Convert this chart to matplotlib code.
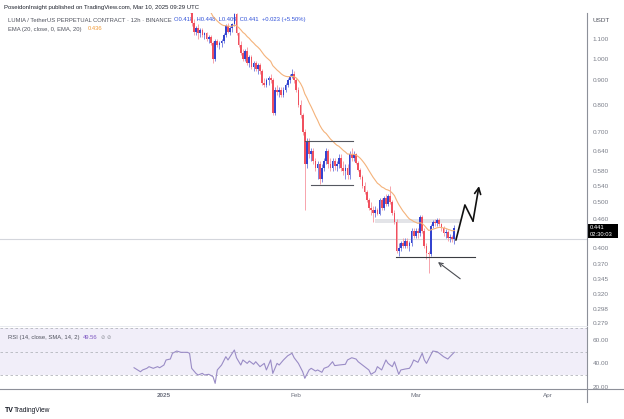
import numpy as np
import pandas as pd
import matplotlib
matplotlib.use("Agg")
import matplotlib.pyplot as plt
from matplotlib.lines import Line2D
from matplotlib.patches import Rectangle
from matplotlib.ticker import FixedLocator, NullLocator, FuncFormatter

plt.rcParams['font.family'] = ['Liberation Sans', 'DejaVu Sans']

# ---- 12h candles, LUMIA/USDT perpetual ----
first_candle = "2025-01-07 00:00"
opens = [1.30, 1.26, 1.19, 1.14, 1.16, 1.13, 1.15, 1.12, 1.13, 1.10, 1.11, 1.08, 1.00, 1.09, 1.07, 1.08,
         1.09, 1.12, 1.17, 1.14, 1.16, 1.18, 1.24, 1.13, 1.07, 1.03, 1.00, 1.04, 0.98, 1.01, 0.96, 0.98,
         0.95, 0.97, 0.94, 0.89, 0.88, 0.90, 0.91, 0.90, 0.77, 0.86, 0.85, 0.86, 0.84, 0.86, 0.88, 0.90,
         0.92, 0.93, 0.90, 0.86, 0.80, 0.76, 0.70, 0.60, 0.67, 0.63, 0.64, 0.61, 0.59, 0.60, 0.56, 0.59,
         0.61, 0.64, 0.60, 0.59, 0.61, 0.595, 0.60, 0.62, 0.59, 0.58, 0.59, 0.57, 0.63, 0.62, 0.63, 0.605,
         0.585, 0.565, 0.54, 0.525, 0.505, 0.485, 0.48, 0.475, 0.48, 0.472, 0.505, 0.485, 0.51, 0.495, 0.515, 0.50,
         0.475, 0.455, 0.395, 0.40, 0.41, 0.405, 0.415, 0.405, 0.41, 0.435, 0.425, 0.435, 0.43, 0.465, 0.435, 0.405,
         0.39, 0.388, 0.445, 0.455, 0.452, 0.458, 0.45, 0.44, 0.43, 0.433, 0.42, 0.423, 0.418]
highs = [1.34, 1.27, 1.21, 1.17, 1.18, 1.16, 1.16, 1.14, 1.14, 1.12, 1.12, 1.09, 1.10, 1.10, 1.09, 1.10,
         1.13, 1.18, 1.19, 1.17, 1.19, 1.25, 1.25, 1.14, 1.09, 1.05, 1.05, 1.06, 1.02, 1.02, 0.99, 0.99,
         0.98, 0.98, 0.95, 0.91, 0.91, 0.92, 0.93, 0.91, 0.87, 0.88, 0.87, 0.87, 0.87, 0.89, 0.91, 0.93,
         0.95, 0.94, 0.91, 0.87, 0.82, 0.77, 0.71, 0.68, 0.68, 0.65, 0.65, 0.62, 0.61, 0.61, 0.60, 0.62,
         0.65, 0.645, 0.62, 0.62, 0.62, 0.61, 0.63, 0.63, 0.61, 0.60, 0.60, 0.64, 0.65, 0.64, 0.635, 0.61,
         0.59, 0.57, 0.55, 0.53, 0.51, 0.50, 0.49, 0.49, 0.485, 0.51, 0.51, 0.515, 0.52, 0.52, 0.54, 0.505,
         0.48, 0.46, 0.41, 0.415, 0.42, 0.42, 0.42, 0.415, 0.44, 0.44, 0.44, 0.44, 0.47, 0.47, 0.44, 0.41,
         0.395, 0.45, 0.458, 0.46, 0.462, 0.462, 0.452, 0.445, 0.438, 0.436, 0.428, 0.426, 0.448]
lows = [1.25, 1.17, 1.12, 1.12, 1.10, 1.11, 1.11, 1.10, 1.09, 1.08, 1.07, 0.98, 0.99, 1.06, 1.05, 1.06,
        1.08, 1.11, 1.13, 1.12, 1.14, 1.17, 1.12, 1.06, 1.02, 0.99, 0.99, 0.97, 0.96, 0.95, 0.94, 0.94,
        0.93, 0.93, 0.88, 0.87, 0.87, 0.88, 0.89, 0.76, 0.76, 0.84, 0.83, 0.83, 0.83, 0.85, 0.87, 0.89,
        0.91, 0.89, 0.85, 0.79, 0.75, 0.69, 0.48, 0.59, 0.62, 0.61, 0.60, 0.58, 0.56, 0.545, 0.55, 0.58,
        0.60, 0.59, 0.58, 0.58, 0.585, 0.58, 0.59, 0.58, 0.57, 0.56, 0.56, 0.56, 0.61, 0.61, 0.60, 0.58,
        0.56, 0.535, 0.52, 0.50, 0.48, 0.47, 0.455, 0.465, 0.47, 0.47, 0.48, 0.48, 0.49, 0.49, 0.495, 0.47,
        0.45, 0.39, 0.385, 0.395, 0.40, 0.40, 0.40, 0.395, 0.405, 0.42, 0.42, 0.42, 0.425, 0.43, 0.40, 0.38,
        0.355, 0.385, 0.44, 0.445, 0.445, 0.445, 0.435, 0.425, 0.42, 0.415, 0.412, 0.412, 0.409]
closes = [1.26, 1.19, 1.14, 1.16, 1.13, 1.15, 1.12, 1.13, 1.10, 1.11, 1.08, 1.00, 1.09, 1.07, 1.08, 1.09,
          1.12, 1.17, 1.14, 1.16, 1.18, 1.24, 1.13, 1.07, 1.03, 1.00, 1.04, 0.98, 1.01, 0.96, 0.98, 0.95,
          0.97, 0.94, 0.89, 0.88, 0.90, 0.91, 0.90, 0.77, 0.86, 0.85, 0.86, 0.84, 0.86, 0.88, 0.90, 0.92,
          0.93, 0.90, 0.86, 0.80, 0.76, 0.70, 0.60, 0.67, 0.63, 0.64, 0.61, 0.59, 0.60, 0.56, 0.59, 0.61,
          0.64, 0.60, 0.59, 0.61, 0.595, 0.60, 0.62, 0.59, 0.58, 0.59, 0.57, 0.63, 0.62, 0.63, 0.605, 0.585,
          0.565, 0.54, 0.525, 0.505, 0.485, 0.48, 0.475, 0.48, 0.472, 0.505, 0.485, 0.51, 0.495, 0.515, 0.50, 0.475,
          0.455, 0.395, 0.40, 0.41, 0.405, 0.415, 0.405, 0.41, 0.435, 0.425, 0.435, 0.43, 0.465, 0.435, 0.405, 0.39,
          0.388, 0.445, 0.455, 0.452, 0.458, 0.45, 0.44, 0.43, 0.433, 0.42, 0.423, 0.418, 0.441]
ema_start = 1.49      # EMA(20) value carried in from the bar before the first candle
ema_length = 20

# ---- RSI(14): candle time (days after 2025-01-01) and value ----
rsi_days = [-7.0, -5.5, -5.0, -4.0, -3.5, -2.5, -1.5, -1.0, 0.0, 0.5, 1.5, 2.0, 3.0, 4.0, 5.5, 6.0,
            6.5, 7.5, 8.0, 9.0, 9.5, 10.5, 11.5, 12.0, 12.5, 13.5, 14.5, 15.0, 16.0, 16.5, 17.0, 18.0,
            18.5, 19.5, 20.0, 21.0, 21.5, 22.5, 23.5, 24.0, 25.0, 25.5, 26.5, 27.0, 28.0, 29.0, 30.0, 30.5,
            31.5, 32.5, 33.0, 34.0, 34.5, 35.5, 36.0, 37.0, 37.5, 38.5, 39.5, 40.0, 41.0, 42.5, 43.0, 44.0,
            45.0, 45.5, 46.5, 47.0, 48.0, 48.5, 49.5, 50.0, 51.0, 52.0, 52.5, 53.5, 54.0, 55.0, 55.5, 56.5,
            57.5, 58.0, 58.5, 59.5, 60.5, 61.0, 61.5, 62.5, 63.0, 64.0, 64.5, 65.5, 66.5, 67.0, 68.0]
rsi_values = [36.4, 33.0, 34.5, 35.9, 37.3, 35.9, 37.3, 36.4, 38.7, 43.0, 43.8, 48.7, 50.6, 49.5, 49.5, 48.7,
              35.9, 31.6, 30.2, 31.6, 30.2, 30.8, 28.8, 23.1, 34.5, 38.7, 45.8, 43.0, 48.7, 51.5, 44.9, 38.7,
              43.0, 40.1, 42.1, 39.3, 41.5, 37.3, 40.1, 34.5, 43.0, 31.6, 40.1, 38.7, 43.0, 46.6, 48.7, 44.9,
              40.1, 33.0, 27.4, 34.5, 35.9, 33.6, 34.5, 32.5, 35.9, 37.3, 41.5, 38.2, 38.7, 39.3, 43.0, 44.9,
              43.8, 41.5, 38.7, 37.3, 34.5, 30.8, 33.0, 37.3, 34.5, 43.0, 40.1, 37.3, 41.5, 30.8, 34.5, 35.3,
              35.9, 38.7, 43.0, 41.0, 48.7, 43.0, 40.1, 47.2, 50.6, 50.0, 48.7, 45.8, 43.8, 45.8, 49.56]
rsi_bands = [70, 50, 30]

# ---- axis labels ----
price_ticks = [1.100, 1.000, 0.900, 0.800, 0.700, 0.640, 0.580, 0.540, 0.500, 0.460,
               0.400, 0.370, 0.345, 0.320, 0.298, 0.279]
rsi_ticks = [60, 40, 20]
month_dates = ["2025-01-01", "2025-02-01", "2025-03-01", "2025-04-01"]
month_labels = ["2025", "Feb", "Mar", "Apr"]

# ---- chart drawings ----
range_top, range_bottom = 0.672, 0.543
range_days = (33.0, 44.3, 34.4)          # top start, end, bottom start
support_level = 0.383
support_days = (54.4, 72.9)
resist_band = (0.452, 0.460)
resist_days = (49.5, 69.6)
ref_line = 0.418
path_days = [68.4, 70.5, 72.4, 73.8]
path_prices = [0.416, 0.493, 0.456, 0.540]
pointer_from = (69.4, 0.345)
pointer_to = (64.2, 0.374)

last_price = closes[-1]

# ---------------------------------------------------------------
W, H = 624, 419
fig = plt.figure(figsize=(W / 100, H / 100), dpi=100)
fig.patch.set_facecolor("white")


def fy(y):
    return 1 - y / H


base = pd.Timestamp("2025-01-01")
times = pd.date_range(first_candle, periods=len(closes), freq="12h")
xd = np.asarray((times - base) / pd.Timedelta(days=1), dtype=float)
x_left, x_right = -38.4, 99.1

ax = fig.add_axes([0, fy(325), 587 / W, (325 - 13) / H])
ax.set_xlim(x_left, x_right)
ax.set_yscale("log")
ax.set_ylim(0.2759, 1.247)
for s in ax.spines.values():
    s.set_visible(False)
ax.set_xticks([])
ax.yaxis.tick_right()
ax.yaxis.set_major_locator(FixedLocator(price_ticks))
ax.yaxis.set_minor_locator(NullLocator())
ax.yaxis.set_major_formatter(FuncFormatter(lambda v, p: f"{v:.3f}"))
ax.tick_params(axis="y", length=0, pad=4, labelsize=4.6, labelcolor="#7a7e89")

up_col, dn_col = "#3343cf", "#f0505e"
up_wick, dn_wick = "#6b77dd", "#f6959f"
o = np.array(opens); h = np.array(highs); l = np.array(lows); c = np.array(closes)
up = c >= o
ax.vlines(xd[up], l[up], h[up], color=up_wick, lw=0.6, zorder=3)
ax.vlines(xd[~up], l[~up], h[~up], color=dn_wick, lw=0.6, zorder=3)
ax.bar(xd[up], (c - o)[up], bottom=o[up], width=0.40, color=up_col, lw=0, zorder=4)
ax.bar(xd[~up], (o - c)[~up], bottom=c[~up], width=0.40, color=dn_col, lw=0, zorder=4)

# EMA(20) of closes
alpha = 2 / (ema_length + 1)
ema = []
e = ema_start
for v in closes:
    e = e + alpha * (v - e)
    ema.append(e)
ax.plot(xd, ema, color="#f4b27a", lw=0.8, zorder=5)

# reference line and zones
ax.axhline(ref_line, color="#d4d6dc", lw=0.8, zorder=1)
ax.add_patch(Rectangle((resist_days[0], resist_band[0]), resist_days[1] - resist_days[0],
                       resist_band[1] - resist_band[0], color="#e3e4e8", lw=0, zorder=1))
ax.plot([range_days[0], range_days[1]], [range_top, range_top], color="#555860", lw=0.8, zorder=6)
ax.plot([range_days[2], range_days[1]], [range_bottom, range_bottom], color="#555860", lw=0.8, zorder=6)
ax.plot(support_days, [support_level, support_level], color="#3a3c42", lw=0.8, zorder=6)

# projected path
ax.plot(path_days[:-1], path_prices[:-1], color="#111111", lw=1.2, zorder=7, solid_capstyle="round")
ax.annotate("", xy=(path_days[-1], path_prices[-1]), xytext=(path_days[-2], path_prices[-2]),
            arrowprops=dict(arrowstyle="->", color="#111111", lw=1.2, mutation_scale=11,
                            shrinkA=0, shrinkB=0), zorder=7)
ax.annotate("", xy=pointer_to, xytext=pointer_from,
            arrowprops=dict(arrowstyle="->", color="#4a4c52", lw=0.8, mutation_scale=7,
                            shrinkA=0, shrinkB=0), zorder=7)

# legend lines of the price pane (drawn under the candles)
tf = fig.transFigure
ax.text(8 / W, fy(20), "LUMIA / TetherUS PERPETUAL CONTRACT · 12h · BINANCE", transform=tf,
        fontsize=4.2, color="#50535e", va="center", ha="left", zorder=2, clip_on=False)
ohlc = f"O{opens[-1]:.3f}  H{highs[-1]:.3f}  L{lows[-1]:.3f}  C{last_price:.3f}  " \
       f"+{last_price - opens[-1]:.3f} (+{(last_price / opens[-1] - 1) * 100:.2f}%)"
ax.text(174 / W, fy(20), ohlc, transform=tf, fontsize=4.2, color="#2f50d8",
        va="center", ha="left", zorder=2, clip_on=False)
ax.text(8 / W, fy(29), "EMA (20, close, 0, EMA, 20)", transform=tf, fontsize=4.2,
        color="#50535e", va="center", ha="left", zorder=2, clip_on=False)
ax.text(88 / W, fy(29), f"{ema[-1]:.3f}", transform=tf, fontsize=4.2, color="#f29b38",
        va="center", ha="left", zorder=2, clip_on=False)

# ---- RSI pane ----
axr = fig.add_axes([0, fy(389), 587 / W, (389 - 326) / H])
axr.set_xlim(x_left, x_right)
axr.set_ylim(18.3, 71.9)
for s in axr.spines.values():
    s.set_visible(False)
axr.axhspan(rsi_bands[2], rsi_bands[0], color="#f1eef9", lw=0, zorder=0)
for b in rsi_bands:
    axr.axhline(b, color="#b4b6bd", lw=0.6, ls=(0, (3, 3)), zorder=1)
axr.plot(rsi_days, rsi_values, color="#9a8cc6", lw=0.8, zorder=3)
axr.yaxis.tick_right()
axr.set_yticks(rsi_ticks)
axr.yaxis.set_major_formatter(FuncFormatter(lambda v, p: f"{v:.2f}"))
month_x = [(pd.Timestamp(d) - base) / pd.Timedelta(days=1) for d in month_dates]
axr.set_xticks(month_x)
axr.set_xticklabels(month_labels)
axr.tick_params(axis="y", length=0, pad=4, labelsize=4.6, labelcolor="#7a7e89")
axr.tick_params(axis="x", length=0, pad=3, labelsize=4.6, labelcolor="#6f7380")
axr.get_xticklabels()[0].set_fontweight("bold")
fig.text(8 / W, fy(337), "RSI (14, close, SMA, 14, 2)", fontsize=4.2, color="#50535e",
         va="center", ha="left")
fig.text(83 / W, fy(337), f"{rsi_values[-1]:.2f}", fontsize=4.2, color="#7e57c2",
         va="center", ha="left")
fig.text(101 / W, fy(337), "⊘ ⊘", fontsize=3.8, color="#9598a1", va="center", ha="left",
         family=["DejaVu Sans"])

# ---- frame lines ----
fig.add_artist(Line2D([587 / W, 587 / W], [fy(13), fy(402)], color="#8d9099", lw=0.8))
fig.add_artist(Line2D([0, 1], [fy(389), fy(389)], color="#8d9099", lw=0.8))
fig.add_artist(Line2D([0, 587 / W], [fy(325.5), fy(325.5)], color="#e4e6ec", lw=0.6))

# right-hand labels
fig.text(601 / W, fy(21), "USDT", fontsize=4.6, color="#50535e", ha="center", va="center")
fig.add_artist(Rectangle((588 / W, fy(238)), 30 / W, 14 / H, transform=tf, color="#000000", lw=0))
fig.text(590 / W, fy(227.5), f"{last_price:.3f}", fontsize=4.2, color="white", ha="left", va="center")
fig.text(590 / W, fy(234), "02:30:03", fontsize=4.2, color="white", ha="left", va="center")

# header and footer
fig.text(4 / W, fy(7), "PoseidonInsight published on TradingView.com, Mar 10, 2025 09:29 UTC",
         fontsize=4.3, color="#1e222d", ha="left", va="center")
fig.text(5 / W, fy(410), "TV", fontsize=5, color="#131722", ha="left", va="center", fontweight="bold")
fig.text(14 / W, fy(410), "TradingView", fontsize=4.8, color="#131722", ha="left", va="center")

fig.savefig("out.png", dpi=100, facecolor="white")
